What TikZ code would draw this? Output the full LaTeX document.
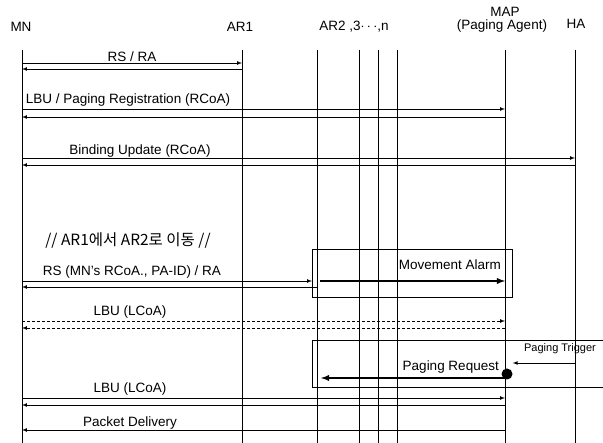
\documentclass[tikz,border=0pt]{standalone}
\usepackage{fontspec}
\setmainfont{Liberation Sans}
\newfontfamily\kr{Noto Sans CJK KR}
\usetikzlibrary{arrows}

\begin{document}
\begin{tikzpicture}[x=1pt, y=-1pt,
    font=\fontsize{13.5}{15}\selectfont,
    life/.style={line width=0.8pt},
    msg/.style={-latex, line width=0.7pt},
    bigmsg/.style={-latex, line width=1.8pt},
    dmsg/.style={-latex, line width=0.7pt, dash pattern=on 3pt off 2pt},
    lbl/.style={anchor=base, inner sep=0pt},
    dot/.style={circle, fill, inner sep=0pt, minimum size=11pt}]
  \useasboundingbox (0,0) rectangle (603,443);

  % heads
  \node (mn)  at (21,27) {MN};
  \node (ar2) at (354,27) {AR2 ,3$\cdots$,n};
  \node (ar1) at (240,27) {AR1};
  \node (map) at (505,12) {MAP};
  \node (pa)  at (502,26) {(Paging Agent)};
  \node (ha)  at (576,24) {HA};

  % life lines
  \coordinate (l-mn)  at (22,50);
  \coordinate (l-ar1) at (242,50);
  \coordinate (l-ar2) at (317,50);
  \coordinate (l-ar3) at (359,50);
  \coordinate (l-ar4) at (378,50);
  \coordinate (l-arn) at (397,50);
  \coordinate (l-map) at (505,50);
  \coordinate (l-ha)  at (575,50);
  \foreach \n in {mn,ar1,ar2,ar3,ar4,arn,map,ha}
    \draw[life] (l-\n) -- (l-\n |- 0,443);

  % RS / RA
  \node[lbl] (rsra) at (132,62) {RS / RA};
  \draw[msg] (l-mn |- 0,63) -- (l-ar1 |- 0,63);
  \draw[msg] (l-ar1 |- 0,69) -- (l-mn |- 0,69);

  % LBU / paging registration
  \node[lbl] (lbu1) at (128,104) {LBU / Paging Registration (RCoA)};
  \draw[msg] (l-mn |- 0,109) -- (l-map |- 0,109);
  \draw[msg] (l-map |- 0,117) -- (l-mn |- 0,117);

  % binding update
  \node[lbl] (bu) at (140,155) {Binding Update (RCoA)};
  \draw[msg] (l-mn |- 0,158) -- (l-ha |- 0,158);
  \draw[msg] (l-ha |- 0,165) -- (l-mn |- 0,165);

  % movement
  \node[lbl] (move) at (128,246) {\kr\fontsize{15.5}{17}\selectfont // AR1에서 AR2로 이동 //};
  \node[lbl] (rs2) at (132,276) {RS (MN's RCoA., PA-ID) / RA};
  \draw[msg] (l-mn |- 0,281) -- (312,281);
  \draw[msg] (l-ar2 |- 0,287) -- (l-mn |- 0,287);

  \draw[life] (312,249) rectangle (512,297);
  \node[lbl, anchor=base east] (ma) at (501,270) {Movement Alarm};
  \draw[bigmsg] (320,281) -- (l-map |- 0,281);

  % LBU (LCoA), dashed
  \node[lbl] (lbu2) at (130,316) {LBU (LCoA)};
  \draw[dmsg] (l-mn |- 0,321) -- (l-map |- 0,321);
  \draw[dmsg] (l-map |- 0,328) -- (l-mn |- 0,328);

  % paging
  \draw[life] (603,340) -- (312,340) -- (312,387) -- (603,387);
  \node[lbl, font=\fontsize{11}{12}\selectfont] (pt) at (560,352) {Paging Trigger};
  \node[dot] (pr) at (507,374) {};
  \draw[msg] (l-ha |- 0,363) -- (pr.east |- 0,363);
  \node[lbl, anchor=base east] (preq) at (499,371) {Paging Request};
  \draw[bigmsg] (pr |- 0,378) -- (321,378);

  % LBU (LCoA)
  \node[lbl] (lbu3) at (130,393) {LBU (LCoA)};
  \draw[msg] (l-mn |- 0,398) -- (l-map |- 0,398);
  \draw[msg] (l-map |- 0,405) -- (l-mn |- 0,405);

  % packet delivery
  \node[lbl] (pd) at (130,427) {Packet Delivery};
  \draw[msg] (l-map |- 0,430) -- (l-mn |- 0,430);
\end{tikzpicture}
\end{document}
